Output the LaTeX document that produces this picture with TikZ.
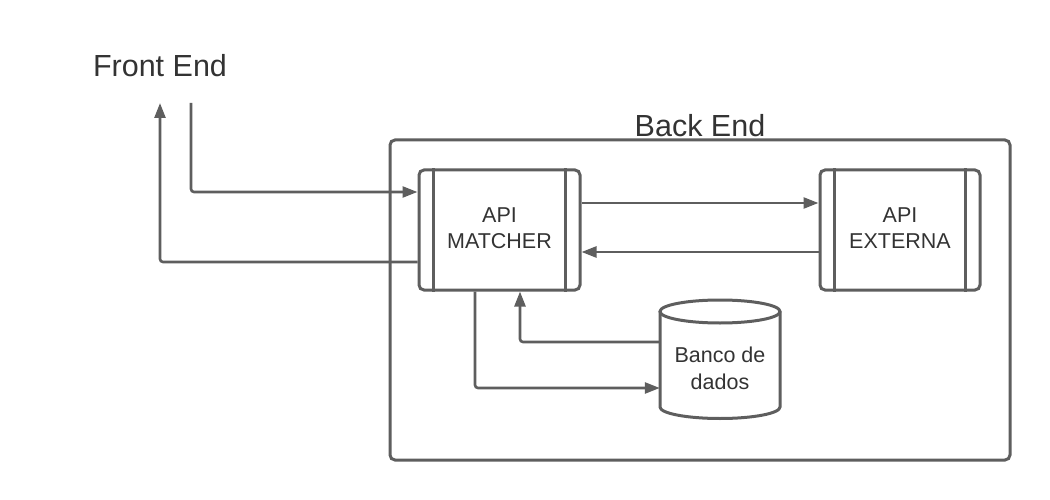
\documentclass[tikz,border=0pt]{standalone}
\usepackage{fontspec}
\setmainfont{Liberation Sans}
\usetikzlibrary{arrows.meta}
\definecolor{ln}{HTML}{5E5E5E}
\definecolor{tx}{HTML}{333333}
\tikzset{
  box/.style={draw=ln, line width=3pt, rounded corners=5pt, minimum width=161pt, minimum height=120pt, inner sep=0pt, text=tx, align=center, font=\fontsize{21.5}{26.5}\selectfont},
  conn/.style={draw=ln, line width=2.6pt, rounded corners=3pt, -{Triangle[length=15pt,width=11pt]}},
  title/.style={text=tx, font=\fontsize{30.5}{36}\selectfont, inner sep=0pt},
  inner/.style={draw=ln, line width=3pt},
  boxtext/.style={text=tx, align=center, font=\fontsize{21.5}{26.5}\selectfont, inner sep=0pt}
}
\begin{document}
\begin{tikzpicture}[x=1pt,y=-1pt]
\useasboundingbox (0,0) rectangle (1050,500);
% container
\node (be) [draw=ln, line width=3pt, rounded corners=5pt, minimum width=620pt, minimum height=320pt, inner sep=0pt] at (700,300) {};
\node (betitle) [title] at (700,126) {Back End};
\node (fetitle) [title] at (160,66) {Front End};
% boxes
\node (m) [box] at (499.5,230) {};
\node (mtext) [boxtext] at (499.5,228) {API\\MATCHER};
\node (e) [box, minimum width=160pt] at (900,230) {};
\node (etext) [boxtext] at (900,228) {API\\EXTERNA};
\foreach \b in {m,e}{
  \draw[inner] ([xshift=16pt]\b.north west) -- ([xshift=16pt]\b.south west);
  \draw[inner] ([xshift=-16pt]\b.north east) -- ([xshift=-16pt]\b.south east);
}
% database
\node (db) [minimum width=120pt, minimum height=119pt, inner sep=0pt] at (720,359.5) {};
\draw[draw=ln, line width=3pt] (660,311.5) -- (660,407) arc[start angle=180, end angle=360, x radius=60pt, y radius=11.5pt] -- (780,311.5);
\draw[draw=ln, line width=3pt] (720,311.5) ellipse [x radius=60pt, y radius=11.5pt];
\node (dbtext) [boxtext] at (720,368.5) {Banco de\\dados};
% connectors
\coordinate (fein) at (191,103);
\coordinate (feout) at (160,103);
\draw[conn] (fein) |- ([yshift=38pt]m.west);
\draw[conn] ([yshift=-32pt]m.west) -| (feout);
\draw[conn] ([yshift=27pt]m.east) -- ([yshift=27pt]e.west);
\draw[conn] ([yshift=-22pt]e.west) -- ([yshift=-22pt]m.east);
\draw[conn] ([xshift=-24.5pt]m.south) |- ([yshift=-28.5pt]db.west);
\draw[conn] ([yshift=17.5pt]db.west) -| ([xshift=20.5pt]m.south);
\end{tikzpicture}
\end{document}
